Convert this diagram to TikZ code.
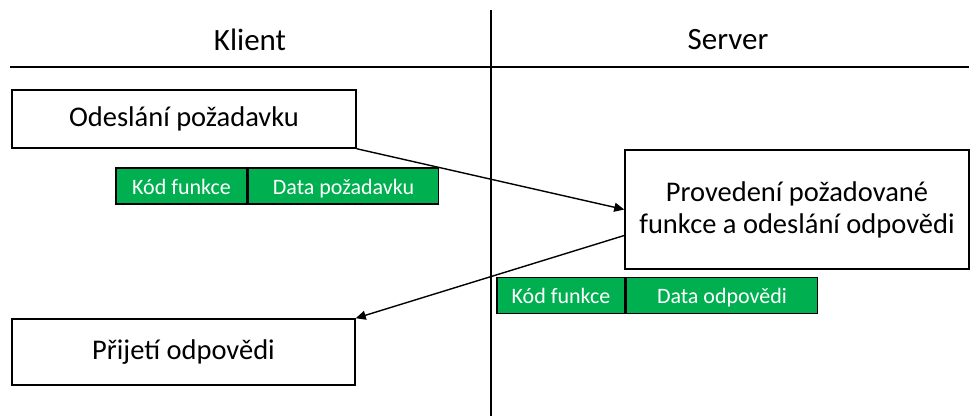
\documentclass[tikz,border=0pt]{standalone}
\usepackage{fontspec}
\setmainfont{Carlito}
\usepackage{xcolor}
\usetikzlibrary{arrows.meta}
\definecolor{zelena}{HTML}{00B050}

\begin{document}
\begin{tikzpicture}[x=1pt,y=-1pt,
  hlava/.style={font=\fontsize{31}{36}\selectfont},
  krok/.style={draw,line width=1.5pt,inner sep=0pt,align=center,font=\fontsize{28.5}{32}\selectfont},
  pole/.style={draw,fill=zelena,line width=1.5pt,inner sep=0pt,text=white,minimum height=36pt,
    text height=18pt,text depth=2pt,font=\fontsize{22}{26}\selectfont},
  sipka/.style={line width=1.4pt,-{Triangle[length=10pt,width=9pt]}}]
\useasboundingbox (0,0) rectangle (971,416);
% oddeleni klienta a serveru
\draw[line width=2pt] (10,67) -- (969,67);
\draw[line width=1.5pt] (491,10) -- (491,416);
\node[hlava] (klient) at (250,40) {Klient};
\node[hlava] (server) at (728,40) {Server};
% kroky komunikace
\node[krok,minimum width=344pt,minimum height=58pt] (odeslani) at (184,119) {Odeslání požadavku};
\node[krok,minimum width=344pt,minimum height=119pt] (provedeni) at (797,209.5) {Provedení požadované\\funkce a odeslání odpovědi};
\node[krok,minimum width=343pt,minimum height=66pt] (prijeti) at (183.5,352) {Přijetí odpovědi};
% ramce zprav
\node[pole,minimum width=131pt] (kod1) at (181.5,186) {Kód funkce};
\node[pole,minimum width=190pt,anchor=west] (data1) at (kod1.east) {Data požadavku};
\node[pole,minimum width=128pt] (kod2) at (561,295.5) {Kód funkce};
\node[pole,minimum width=191pt,anchor=west] (data2) at (kod2.east) {Data odpovědi};
% zpravy
\draw[sipka] (odeslani.south east) -- (provedeni.west);
\draw[sipka] ([yshift=-26pt]provedeni.west) -- (prijeti.north east);
\end{tikzpicture}
\end{document}
